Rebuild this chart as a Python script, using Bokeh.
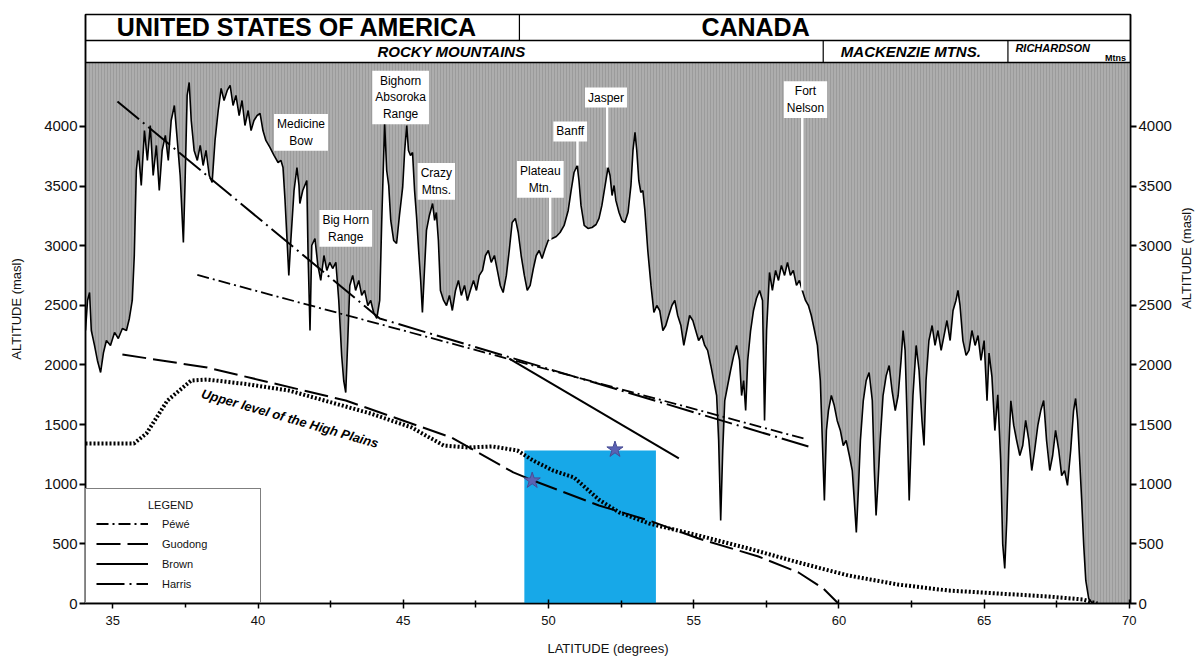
import math
from bokeh.plotting import figure
from bokeh.models import (Range1d, LinearAxis, FixedTicker, Label, Legend, LegendItem, Span)
from bokeh.embed import file_html
from bokeh.resources import INLINE

# ---------------- data ----------------
profile_lat = [34.06, 34.13, 34.20, 34.26, 34.37, 34.47, 34.58, 34.68, 34.78, 34.92, 35.06, 35.19, 35.33, 35.47, 35.57, 35.67,
               35.74, 35.81, 35.88, 35.98, 36.09, 36.19, 36.29, 36.39, 36.50, 36.60, 36.70, 36.81, 36.91, 37.01, 37.12, 37.22,
               37.32, 37.43, 37.49, 37.56, 37.63, 37.70, 37.80, 37.91, 38.01, 38.11, 38.21, 38.32, 38.42, 38.52, 38.63, 38.73,
               38.83, 38.94, 39.04, 39.14, 39.24, 39.35, 39.45, 39.55, 39.66, 39.76, 39.86, 39.97, 40.07, 40.17, 40.27, 40.41,
               40.55, 40.69, 40.79, 40.86, 40.93, 41.00, 41.06, 41.13, 41.24, 41.34, 41.41, 41.44, 41.54, 41.68, 41.72, 41.79,
               41.85, 41.96, 42.06, 42.16, 42.27, 42.37, 42.47, 42.57, 42.68, 42.78, 42.88, 42.95, 43.02, 43.09, 43.16, 43.26,
               43.36, 43.47, 43.57, 43.67, 43.78, 43.88, 43.98, 44.09, 44.19, 44.26, 44.36, 44.43, 44.50, 44.57, 44.67, 44.77,
               44.87, 44.98, 45.05, 45.12, 45.18, 45.25, 45.32, 45.39, 45.46, 45.53, 45.60, 45.66, 45.73, 45.80, 45.90, 46.01,
               46.08, 46.14, 46.21, 46.28, 46.39, 46.49, 46.59, 46.69, 46.80, 46.90, 47.00, 47.11, 47.21, 47.31, 47.42, 47.52,
               47.62, 47.73, 47.83, 47.93, 48.03, 48.14, 48.24, 48.34, 48.44, 48.55, 48.65, 48.75, 48.86, 48.96, 49.06, 49.17,
               49.27, 49.37, 49.48, 49.58, 49.68, 49.78, 49.89, 49.99, 50.13, 50.27, 50.40, 50.54, 50.68, 50.78, 50.88, 50.99,
               51.05, 51.12, 51.23, 51.36, 51.50, 51.64, 51.74, 51.84, 51.95, 52.05, 52.12, 52.19, 52.26, 52.32, 52.43, 52.53,
               52.63, 52.74, 52.84, 52.91, 52.98, 53.04, 53.11, 53.18, 53.25, 53.32, 53.42, 53.53, 53.63, 53.73, 53.83, 53.94,
               54.04, 54.14, 54.25, 54.35, 54.45, 54.56, 54.66, 54.76, 54.86, 54.97, 55.07, 55.17, 55.28, 55.38, 55.48, 55.59,
               55.69, 55.79, 55.86, 55.93, 56.00, 56.07, 56.17, 56.27, 56.38, 56.48, 56.58, 56.65, 56.72, 56.79, 56.86, 56.96,
               57.06, 57.16, 57.27, 57.37, 57.44, 57.51, 57.61, 57.71, 57.82, 57.92, 58.02, 58.13, 58.23, 58.33, 58.43, 58.54,
               58.64, 58.74, 58.85, 58.95, 59.05, 59.16, 59.26, 59.36, 59.43, 59.50, 59.57, 59.64, 59.74, 59.84, 59.94, 60.05,
               60.15, 60.25, 60.36, 60.46, 60.53, 60.60, 60.67, 60.74, 60.84, 60.94, 61.04, 61.15, 61.22, 61.28, 61.35, 61.42,
               61.52, 61.63, 61.73, 61.83, 61.94, 62.04, 62.14, 62.21, 62.28, 62.35, 62.42, 62.49, 62.55, 62.66, 62.76, 62.86,
               62.93, 63.00, 63.10, 63.21, 63.31, 63.41, 63.52, 63.62, 63.72, 63.83, 63.93, 64.03, 64.10, 64.17, 64.27, 64.38,
               64.48, 64.58, 64.69, 64.79, 64.89, 65.00, 65.10, 65.17, 65.27, 65.37, 65.47, 65.57, 65.64, 65.71, 65.78, 65.85,
               65.92, 66.02, 66.12, 66.23, 66.33, 66.43, 66.54, 66.64, 66.74, 66.85, 66.95, 67.05, 67.15, 67.26, 67.36, 67.46,
               67.57, 67.67, 67.77, 67.87, 67.98, 68.08, 68.15, 68.22, 68.29, 68.36, 68.43, 68.50, 68.60, 68.73, 70.04]
profile_alt = [2289, 2541, 2608, 2289, 2164, 2038, 1937, 2105, 2205, 2164, 2273, 2222, 2306, 2289, 2390, 2541,
               2918, 3631, 3799, 3505, 3966, 3715, 4008, 3589, 3841, 3463, 3799, 3925, 3715, 4050, 4176, 3883,
               3589, 3027, 3547, 4260, 4369, 4050, 3799, 3715, 3841, 3673, 3799, 3589, 3530, 3883, 4134, 4319,
               4218, 4302, 4344, 4176, 4260, 4092, 4218, 4008, 4134, 3966, 4050, 4092, 4109, 3966, 3883, 3824,
               3757, 3698, 3715, 3656, 3380, 3044, 2751, 3044, 3463, 3656, 3505, 3354, 3463, 3547, 2960, 2289,
               3002, 3061, 2835, 2709, 2918, 2793, 2860, 2809, 2860, 2541, 2080, 1870, 1769, 2205, 2667, 2751,
               2625, 2709, 2583, 2625, 2499, 2541, 2440, 2390, 2541, 3212, 4025, 3631, 3505, 3212, 3044, 3019,
               3254, 3489, 3799, 4008, 3799, 3757, 3782, 3463, 3237, 2960, 2709, 2440, 2793, 3128, 3254, 3354,
               3212, 3279, 3044, 2625, 2541, 2499, 2583, 2457, 2625, 2709, 2583, 2667, 2541, 2625, 2709, 2625,
               2751, 2793, 2918, 2960, 2860, 2918, 2793, 2667, 2608, 2751, 2960, 3195, 3229, 3111, 2918, 2751,
               2625, 2667, 2809, 2918, 2960, 2893, 2977, 3044, 3061, 3078, 3111, 3170, 3296, 3463, 3614, 3673,
               3547, 3338, 3170, 3145, 3153, 3178, 3229, 3338, 3505, 3656, 3589, 3421, 3505, 3380, 3279, 3212,
               3195, 3279, 3505, 3799, 3950, 3799, 3547, 3447, 3463, 3296, 2960, 2667, 2440, 2499, 2457, 2289,
               2331, 2415, 2499, 2541, 2415, 2331, 2164, 2289, 2415, 2373, 2289, 2205, 2247, 2164, 2122, 1996,
               1870, 1744, 1367, 696, 1283, 1702, 1828, 1954, 2080, 2164, 2038, 1744, 1870, 1618, 2038, 2289,
               2457, 2558, 2625, 2541, 1535, 2289, 2776, 2625, 2793, 2709, 2835, 2751, 2860, 2751, 2793, 2667,
               2709, 2625, 2541, 2499, 2415, 2289, 2164, 1870, 1367, 864, 1451, 1618, 1744, 1660, 1535, 1451,
               1325, 1367, 1241, 1115, 864, 595, 948, 1367, 1702, 1870, 1937, 1702, 1115, 738, 1031, 1367,
               1744, 1912, 1996, 1786, 1618, 1744, 2038, 2289, 2122, 1535, 864, 1367, 1744, 2164, 1954, 1535,
               1325, 1870, 2205, 2331, 2164, 2289, 2122, 2247, 2373, 2205, 2457, 2541, 2625, 2499, 2205, 2080,
               2122, 2289, 2164, 2247, 2038, 2205, 1700, 2100, 1900, 1450, 1750, 1200, 500, 294, 700, 1300,
               1700, 1493, 1367, 1241, 1325, 1535, 1367, 1115, 1283, 1493, 1618, 1702, 1367, 1115, 1241, 1451,
               1283, 1073, 1115, 990, 1283, 1618, 1719, 1535, 1199, 864, 486, 193, 42, 0, 0]

plains_lat = [34.06, 35.73, 36.16, 36.88, 37.70, 38.25, 39.60, 41.06, 43.88, 45.29, 46.39, 47.24, 48.07, 48.93,
              49.47, 50.16, 50.88, 51.74, 52.43, 53.46, 55.17, 56.89, 58.61, 60.32, 62.04, 63.76, 65.47, 67.19,
              68.39, 68.90]
plains_alt = [1342, 1342, 1426, 1702, 1870, 1878, 1840, 1786, 1593, 1476, 1325, 1308, 1317, 1283,
              1199, 1115, 1057, 870, 765, 671, 570, 461, 344, 235, 159, 109, 84, 59,
              34, 0]

guodong_lat = [35.33, 38.25, 43.02, 46.66, 48.79, 49.47, 51.74, 53.46, 55.17, 57.23, 58.61, 59.46, 59.98]
guodong_alt = [2088, 1979, 1702, 1392, 1099, 1031, 822, 696, 545, 394, 260, 126, 0]

pewe_lat = [37.91, 58.78]
pewe_alt = [2755, 1384]

brown_lat = [48.65, 54.49]
brown_alt = [2054, 1216]

harris_lat = [35.16, 44.19, 58.95]
harris_alt = [4210, 2390, 1317]

star_lat = [49.44, 52.29]
star_alt = [1031, 1291]

study_lat = [49.17, 53.70]
study_top = 1283

peak_names = ["Medicine\nBow", "Big Horn\nRange", "Bighorn\nAbsoroka\nRange", "Crazy\nMtns.",
              "Plateau\nMtn.", "Banff", "Jasper", "Fort\nNelson"]
peak_label_lat = [41.48, 43.02, 44.91, 46.14, 49.72, 50.75, 51.98, 58.85]
peak_label_alt = [3950, 3145, 4243, 3539, 3556, 3958, 4243, 4226]

leader_lat = [50.06, 51.00, 52.02, 58.74]
leader_top = [3413, 3900, 4210, 4084]
leader_bottom = [3044, 3673, 3656, 2625]

countries = ["UNITED STATES OF AMERICA", "CANADA"]
country_lat = [41.34, 57.13]
border_lat = 49.0
ranges_names = ["ROCKY MOUNTAINS", "MACKENZIE   MTNS."]
ranges_lat = [46.66, 62.62]
range_bounds = [59.46, 65.82]

y_ticks = [0, 500, 1000, 1500, 2000, 2500, 3000, 3500, 4000]
x_ticks = [35, 40, 45, 50, 55, 60, 65, 70]
x_minor = [37.5, 42.5, 47.5, 52.5, 57.5, 62.5, 67.5]

# ---------------- layout constants ----------------
XMIN, XMAX = 34.06, 70.04
YMAX = 4939
ROW1 = 4721
GRAY_TOP = 4537
FONT = "Liberation Sans"
INK = "#111111"

p = figure(width=1204, height=658, x_range=Range1d(XMIN, XMAX), y_range=Range1d(0, YMAX),
           x_axis_type=None, y_axis_type=None, output_backend="svg", toolbar_location=None,
           min_border_left=85, min_border_right=71, min_border_top=14, min_border_bottom=55)
p.outline_line_color = "black"
p.outline_line_width = 1.5
p.background_fill_color = "white"
p.border_fill_color = "white"

def style_axis(ax):
    ax.axis_label_text_font = FONT
    ax.axis_label_text_font_style = "normal"
    ax.axis_label_text_font_size = "13px"
    ax.axis_label_text_color = INK
    ax.major_label_text_font = FONT
    ax.major_label_text_color = INK
    ax.axis_line_color = "black"
    ax.major_tick_line_color = "black"
    ax.axis_line_width = 1.5

def style_y(ax):
    style_axis(ax)
    ax.ticker = FixedTicker(ticks=y_ticks)
    ax.axis_label = "ALTITUDE (masl)"
    ax.major_label_text_font_size = "15px"
    ax.major_tick_in = 0
    ax.major_tick_out = 6
    ax.major_tick_line_width = 2
    ax.minor_tick_line_color = None
    ax.major_label_standoff = 2

yl = LinearAxis()
style_y(yl)
yl.axis_label_standoff = 17
p.add_layout(yl, "left")

yr = LinearAxis()
style_y(yr)
yr.axis_label_standoff = 12
try:
    yr.axis_label_orientation = math.pi / 2
except Exception:
    pass
p.add_layout(yr, "right")

xb = LinearAxis(ticker=FixedTicker(ticks=x_ticks, minor_ticks=x_minor))
style_axis(xb)
xb.axis_label = "LATITUDE (degrees)"
xb.major_label_text_font_size = "13px"
xb.major_tick_in = 4
xb.major_tick_out = 5
xb.minor_tick_in = 3
xb.minor_tick_out = 4
xb.minor_tick_line_color = "black"
xb.major_tick_line_width = 1.5
xb.minor_tick_line_width = 1.5
xb.major_label_standoff = 7
xb.axis_label_standoff = 13
p.add_layout(xb, "below")

p.varea(x=profile_lat, y1=profile_alt, y2=[GRAY_TOP] * len(profile_lat),
        fill_color="#adadad", hatch_pattern="vertical_line", hatch_color="#8a8a8a",
        hatch_alpha=0.5, hatch_scale=3, hatch_weight=1)
p.line(profile_lat, profile_alt, line_color="black", line_width=1.6)

p.segment(x0=leader_lat, y0=leader_bottom, x1=leader_lat, y1=leader_top, line_color="white", line_width=2.5)

p.quad(left=[study_lat[0]], right=[study_lat[1]], bottom=[0], top=[study_top],
       fill_color="#17a8e8", line_color=None)

plains = p.line(plains_lat, plains_alt, line_color="black", line_width=4, line_dash="2 2")
r_pewe = p.line(pewe_lat, pewe_alt, line_color="black", line_width=1.8, line_dash="12 4 2 4")
r_guo = p.line(guodong_lat, guodong_alt, line_color="black", line_width=2, line_dash="24 7")
r_brown = p.line(brown_lat, brown_alt, line_color="black", line_width=2)
r_harris = p.line(harris_lat, harris_alt, line_color="black", line_width=2, line_dash="28 5 2 5")

p.scatter(star_lat, star_alt, marker="star", size=17, fill_color="#5b62b3", line_color="#474c95")

p.add_layout(Label(x=41.10, y=1552, text="Upper level of the High Plains", angle=-0.28,
                   text_align="center", text_baseline="middle", text_font=FONT,
                   text_font_style="bold italic", text_font_size="13px", text_color="black"))

for name, la, al in zip(peak_names, peak_label_lat, peak_label_alt):
    p.add_layout(Label(x=la, y=al, text=name, text_align="center", text_baseline="middle",
                       text_font=FONT, text_font_size="12px", text_color="black",
                       background_fill_color="white", background_fill_alpha=1.0, padding=3))

p.add_layout(Span(location=ROW1, dimension="width", line_color="black", line_width=1.5))
p.add_layout(Span(location=GRAY_TOP, dimension="width", line_color="black", line_width=1.5))
p.segment(x0=[border_lat] + range_bounds, y0=[ROW1, GRAY_TOP, GRAY_TOP],
          x1=[border_lat] + range_bounds, y1=[YMAX, ROW1, ROW1], line_color="black", line_width=1.2)
for name, la in zip(countries, country_lat):
    p.add_layout(Label(x=la, y=(ROW1 + YMAX) / 2, text=name, text_align="center", text_baseline="middle",
                       text_font=FONT, text_font_style="bold", text_font_size="25px", text_color="black"))
for name, la in zip(ranges_names, ranges_lat):
    p.add_layout(Label(x=la, y=(GRAY_TOP + ROW1) / 2, text=name, text_align="center", text_baseline="middle",
                       text_font=FONT, text_font_style="bold italic", text_font_size="15px", text_color="black"))
p.add_layout(Label(x=67.36, y=4660, text="RICHARDSON", text_align="center", text_baseline="middle",
                   text_font=FONT, text_font_style="bold italic", text_font_size="11px", text_color="black"))
p.add_layout(Label(x=69.52, y=4574, text="Mtns", text_align="center", text_baseline="middle",
                   text_font=FONT, text_font_style="bold", text_font_size="9px", text_color="black"))

legend = Legend(items=[LegendItem(label="Péwé", renderers=[r_pewe]),
                       LegendItem(label="Guodong", renderers=[r_guo]),
                       LegendItem(label="Brown", renderers=[r_brown]),
                       LegendItem(label="Harris", renderers=[r_harris])],
                location="bottom_left", margin=0, padding=10, title="\u00a0" * 17 + "LEGEND",
                title_text_font=FONT, title_text_font_size="11px", title_text_font_style="normal",
                title_text_color=INK, title_standoff=4,
                glyph_width=52, glyph_height=17, label_height=17, spacing=3,
                label_standoff=14, label_width=88,
                label_text_font=FONT, label_text_font_size="11px", label_text_color=INK,
                border_line_color="black", border_line_width=1.5,
                background_fill_color="white", background_fill_alpha=1.0)
p.add_layout(legend)

open("out.html", "w").write(file_html(p, INLINE))
